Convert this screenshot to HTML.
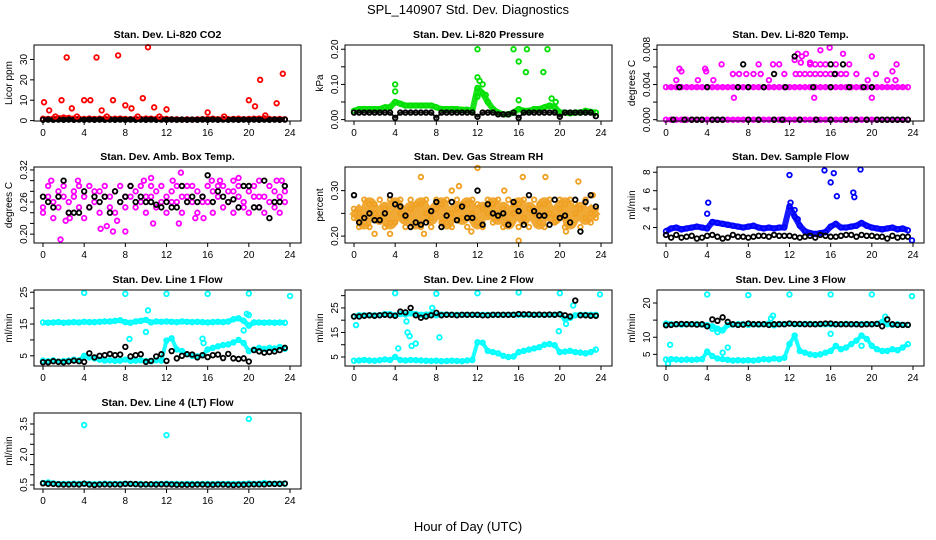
<!DOCTYPE html>
<html><head><meta charset="utf-8">
<style>
html,body{margin:0;padding:0;background:#fff;}
svg{display:block;font-family:"Liberation Sans",sans-serif;}
</style></head>
<body>
<svg id="chart" width="936" height="540" viewBox="0 0 936 540" xmlns="http://www.w3.org/2000/svg">
<text x="468" y="14" font-size="13" text-anchor="middle">SPL_140907  Std. Dev. Diagnostics</text>
<text x="468" y="531" font-size="13" text-anchor="middle">Hour of Day (UTC)</text>
<g id="panels"></g>
</svg>
<script>
const hours=[0,0.5,1,1.5,2,2.5,3,3.5,4,4.5,5,5.5,6,6.5,7,7.5,8,8.5,9,9.5,10,10.5,11,11.5,12,12.5,13,13.5,14,14.5,15,15.5,16,16.5,17,17.5,18,18.5,19,19.5,20,20.5,21,21.5,22,22.5,23,23.5];
const xTicks=[0,4,8,12,16,20,24];

// Panel 1 CO2
const co2Red=[0.9,0.8,1,1.2,1.5,1.3,1,0.9,0.8,1,0.8,0.9,1,0.8,0.9,1,0.8,0.7,0.9,0.8,1,0.9,0.8,0.9,0.8,0.6,0.6,0.5,0.6,0.5,0.6,0.7,0.8,0.9,0.7,0.8,0.7,0.8,0.9,0.7,0.8,0.9,1,1.1,0.8,0.7,0.8,0.6];
const co2Black=[0.4,0.5,0.4,0.5,0.4,0.5,0.4,0.5,0.4,0.5,0.4,0.5,0.4,0.5,0.4,0.5,0.4,0.5,0.4,0.5,0.4,0.5,0.4,0.5,0.4,0.5,0.4,0.5,0.4,0.5,0.4,0.5,0.4,0.5,0.4,0.5,0.4,0.5,0.4,0.5,0.4,0.5,0.4,0.5,0.4,0.5,0.4,0.5];
const co2OutX=[0.1,0.6,1.8,2.3,2.8,4,4.6,5.2,5.7,6.8,7.3,8,8.6,9.7,10.2,10.8,12,16,20,20.6,21.1,22.7,23.3,1.2,3.3,6.2,9.2,11.3,17.6,21.6];
const co2OutY=[9,5,10,31,6,10,10,31,5,10,32,7.5,6,11,36,6.5,5.5,4,10,7,20,8.5,23,2,2,2,2,2,2,2.5];

// Panel 2 pressure
const presGreen=[0.025,0.03,0.03,0.03,0.03,0.03,0.035,0.035,0.05,0.045,0.04,0.04,0.04,0.04,0.04,0.04,0.035,0.03,0.03,0.03,0.03,0.028,0.028,0.025,0.09,0.075,0.05,0.03,0.02,0.015,0.015,0.02,0.03,0.025,0.025,0.03,0.03,0.035,0.04,0.035,0.02,0.02,0.018,0.02,0.02,0.025,0.022,0.02];
const presBlack=[0.02,0.02,0.02,0.02,0.02,0.02,0.02,0.02,0.005,0.02,0.02,0.02,0.02,0.02,0.02,0.02,0.005,0.02,0.02,0.02,0.02,0.02,0.02,0.02,0.008,0.02,0.02,0.02,0.015,0.015,0.015,0.02,0.005,0.02,0.02,0.02,0.02,0.02,0.02,0.02,0.008,0.02,0.02,0.02,0.02,0.02,0.02,0.01];
const presOutX=[4,4,12,12,12.2,12.5,12.8,15.5,16.8,16,16.7,18.4,18.8,19.2,16,12,13,19.6];
const presOutY=[0.1,0.08,0.2,0.12,0.11,0.1,0.07,0.2,0.2,0.165,0.135,0.135,0.2,0.06,0.055,0.065,0.05,0.05];

// Panel 3 Li-820 temp
const tempMagLow=[0,0,0,0,0,0,0,0,0,0,0,0,0,0,0,0,0,0,0,0,0,0,0,0,0,0,0,0,0,0,0,0,0,0,0,0,0,0,0,0,0,0,0,0,0,0,0,0];
const tempMagMid=[0.0037,0.0037,0.0037,0.0037,0.0037,0.0037,0.0037,0.0037,0.0037,0.0037,0.0037,0.0037,0.0037,0.0037,0.0037,0.0037,0.0037,0.0037,0.0037,0.0037,0.0037,0.0037,0.0037,0.0037,0.0037,0.0037,0.0037,0.0037,0.0037,0.0037,0.0037,0.0037,0.0037,0.0037,0.0037,0.0037,0.0037,0.0037,0.0037,0.0037,0.0037,0.0037,0.0037,0.0037,0.0037,0.0037,0.0037,0.0037];
const tempMagOutX=[1,1.5,1.3,3.1,3.9,3.8,5.4,4.6,6.6,6.5,7.1,7.8,9,9.2,10.4,11,10,12.5,12.8,13.2,13.6,13.1,14,14.4,15,15.9,17.2,17.8,18.5,19.6,20,20,20.4,21.5,22,22.4,22.3,12.6,13,13.5,14,14.5,15,15.5,16,16.5,17,17.5,14,14.5,15,15.5,16.5,11.5,8.5];
const tempMagOutY=[0.0045,0.0055,0.0058,0.0045,0.0055,0.0058,0.0063,0.0045,0.0025,0.0052,0.0052,0.0052,0.0063,0.0052,0.0063,0.0063,0.0045,0.0068,0.0075,0.0072,0.0075,0.0065,0.0065,0.0025,0.0079,0.0082,0.0075,0.0063,0.0052,0.0045,0.0072,0.0025,0.0052,0.0045,0.0055,0.0063,0.0045,0.0052,0.0052,0.0052,0.0052,0.0052,0.0052,0.0052,0.0052,0.0052,0.0052,0.0052,0.0063,0.0063,0.0063,0.0063,0.0063,0.0052,0.0052];
const tempBlackX=[0.7,1.8,2.5,3,3.5,4.5,5,5.5,8,9,10.5,11.3,13,14.6,16,17.5,18.5,19.5,20.5,21,21.5,22,22.5,23,23.5,1.3,4,7,8,9.5,11.6,14.3,16,17.8,19.2,20,7.5,16,17.2,12.5,10.5,16.4];
const tempBlackY=[0,0,0,0,0,0,0,0,0,0,0,0,0,0,0,0,0,0,0,0,0,0,0,0,0,0.0037,0.0037,0.0037,0.0037,0.0037,0.0037,0.0037,0.0037,0.0037,0.0037,0.0037,0.0063,0.0063,0.0063,0.0072,0.0052,0.0052];

// Panel 4 amb box temp
const ambMagA=[0.25,0.27,0.26,0.28,0.27,0.26,0.28,0.25,0.27,0.29,0.26,0.28,0.27,0.25,0.28,0.26,0.27,0.29,0.28,0.26,0.27,0.29,0.28,0.26,0.27,0.28,0.26,0.27,0.29,0.26,0.28,0.27,0.26,0.28,0.27,0.29,0.26,0.28,0.27,0.26,0.28,0.27,0.25,0.27,0.26,0.28,0.27,0.26];
const ambMagB=[0.24,0.29,0.23,0.25,0.29,0.24,0.27,0.29,0.23,0.25,0.28,0.24,0.29,0.27,0.24,0.29,0.25,0.27,0.25,0.29,0.24,0.27,0.25,0.29,0.24,0.26,0.29,0.24,0.27,0.29,0.24,0.26,0.29,0.24,0.29,0.25,0.28,0.24,0.29,0.25,0.24,0.29,0.27,0.24,0.29,0.25,0.24,0.28];
const ambMagOutX=[0.8,1.7,2.6,3.4,5.6,6.2,6.8,8,9.8,10.5,12.6,13.4,14.8,15.6,16.4,17.2,18.5,19,21,22.7,23.2,2.2,7.2,10.7,13.2];
const ambMagOutY=[0.3,0.19,0.23,0.3,0.21,0.215,0.205,0.205,0.3,0.305,0.3,0.315,0.23,0.23,0.3,0.3,0.3,0.305,0.3,0.3,0.3,0.225,0.225,0.22,0.22];
const ambBlack=[0.27,0.26,0.25,0.27,0.3,0.24,0.24,0.24,0.28,0.25,0.27,0.26,0.27,0.24,0.28,0.26,0.27,0.29,0.26,0.27,0.26,0.26,0.255,0.25,0.26,0.25,0.25,0.29,0.26,0.27,0.26,0.27,0.31,0.26,0.28,0.27,0.26,0.265,0.25,0.29,0.29,0.25,0.25,0.3,0.23,0.26,0.26,0.29];

// Panel 5 gas RH
const rhOrA=[0.26,0.25,0.23,0.27,0.25,0.24,0.26,0.23,0.27,0.25,0.24,0.26,0.23,0.27,0.25,0.24,0.26,0.27,0.23,0.25,0.26,0.24,0.27,0.25,0.23,0.26,0.25,0.27,0.24,0.26,0.23,0.25,0.27,0.24,0.26,0.25,0.23,0.27,0.25,0.24,0.26,0.27,0.23,0.25,0.26,0.24,0.25,0.26];
const rhOrB=[0.24,0.22,0.28,0.22,0.27,0.28,0.22,0.28,0.23,0.28,0.22,0.28,0.27,0.22,0.28,0.22,0.28,0.23,0.28,0.22,0.28,0.27,0.22,0.28,0.27,0.22,0.28,0.23,0.28,0.22,0.28,0.27,0.22,0.28,0.22,0.28,0.27,0.22,0.28,0.23,0.28,0.22,0.28,0.27,0.22,0.28,0.23,0.24];
const rhOrOutX=[6.5,10.2,9.5,12,14.6,16,18.6,21.8,23.2,2,3.5,6.8,11.4,16.4,20.6];
const rhOrOutY=[0.33,0.31,0.3,0.35,0.3,0.19,0.33,0.32,0.29,0.205,0.205,0.205,0.21,0.33,0.21];
const rhBlack=[0.29,0.23,0.24,0.25,0.235,0.235,0.25,0.29,0.27,0.265,0.245,0.22,0.23,0.225,0.23,0.255,0.275,0.22,0.245,0.275,0.235,0.265,0.24,0.24,0.3,0.225,0.27,0.25,0.245,0.25,0.225,0.275,0.255,0.225,0.29,0.255,0.245,0.245,0.225,0.28,0.24,0.245,0.23,0.28,0.21,0.275,0.29,0.265];

// Panel 6 sample flow
const sfBlue=[1.6,1.9,2,1.8,1.9,2,2.1,2,1.9,2.6,2.5,2.4,2.3,2.2,2.1,2,2.1,2.2,2,1.9,2,1.9,2,2,4.3,3.2,2.2,1.6,1.4,1.3,1.4,1.5,2.1,2.4,2,2,2.1,2.2,2.5,2.2,2,1.9,1.8,1.9,2,1.8,1.9,1.7];
const sfBlack=[1.2,0.9,1.2,0.9,1,1.1,0.8,0.9,1.1,1.2,1,0.8,0.9,1.2,1,1,0.9,1,1.1,1.1,1,1.2,1.1,1.1,1.1,1,0.9,1,1.1,0.9,1.2,1.1,1,1,1.1,1.2,1.2,1,1.2,1.1,1.1,1,1,0.8,1.1,0.9,1,1];
const sfOutX=[4,4.1,12,12.1,12.5,15.4,16,16.3,16.6,18.2,18.3,18.9,23.9,12.8];
const sfOutY=[3.5,4.7,7.7,4.7,3.9,8.2,6.9,7.9,5.4,5.8,5.3,8.3,0.6,2.9];

// Panel 7 Line 1
const l1High=[15.5,15.4,15.5,15.6,15.4,15.5,15.6,15.5,15.7,15.6,15.6,15.7,15.8,15.8,16,16.2,15.6,15.4,15.8,16,16.3,15.5,15.8,15.7,15.8,15.7,15.6,15.8,15.7,15.6,15.7,15.6,15.5,15.6,15.7,15.6,15.8,16.5,16.8,16,14.5,15.5,15.5,15.4,15.5,15.4,15.5,15.4];
const l1Low=[3.5,3.3,3.6,3.2,3.4,3.5,3.8,3.6,5,4.5,4.2,3.8,3.5,3.6,3.4,3.5,3.8,3.4,3.5,3.6,3.4,3.3,3.6,3.5,9.8,10.5,7,6.5,5.5,5,4.8,5.2,7,7.5,8,8.4,8.6,9.2,10,9,6.5,7,7.5,7.2,7.5,7.3,7.8,7.2];
const l1OutX=[4,8,12,16,20,24,10.2,8.4,10,19.8,20,19.5,15.5,15.6];
const l1OutY=[24.8,24.5,24.5,24.5,24.6,23.8,19.3,10.3,12.5,18.2,17.8,13,10.4,9];
const l1Black=[3,3,3.3,3.1,3,3.2,3.5,3.3,3.1,5.8,4.5,5,5.2,5.6,5.2,5.4,7.8,4.8,5.2,5.5,3.1,3.4,4.8,5.5,3.4,6.5,4.2,5,5.5,5.4,4.5,5.2,4.6,5.2,5.4,4.3,5.6,4.2,4,4.2,3.2,6.8,6.4,6,6.2,6.4,6.8,7.5];

// Panel 8 Line 2
const l2High=[21.5,22,22,22,22,22,22.5,22.5,22,22.5,22.3,22.8,22.5,22.2,22.3,22.5,22,22.3,22.3,22.2,22.2,22.2,22.2,22.2,22.2,22.2,22.2,22.2,22.2,22.2,22.2,22.2,22.2,22.2,22.2,22.2,22.2,22.2,22.2,22.2,22.5,20.5,21,22,22.2,22.2,22.2,22.2];
const l2Low=[3.5,3.6,3.8,3.6,3.5,3.7,4,3.8,5,3.8,3.6,3.8,3.7,3.6,3.5,3.4,3.5,3.3,3.4,3.5,3.4,3.3,3.6,3.8,11,10.8,7.5,7,6.5,5.5,5,5.2,7,7.5,8,8.5,9,10,10.3,9.8,7,7.2,7.5,7,6.8,6.5,7,8];
const l2Black=[21.5,21.5,21.8,22,21.8,22,22.2,22,21.8,23.5,23.2,25,22,21,21.5,22,23,22,22.2,22.2,22,22.2,22.2,22.2,22.2,22,22,22.2,22.2,22.2,22.2,22.2,22.5,22.4,22.4,22.2,22.3,22.2,22.3,22.2,22.4,22,21.5,28,22,22,21.8,21.8];
const l2OutX=[4,8,12,16,20,23.9,0.2,4.3,5.2,5.4,5.6,6,8.3,5.1,19.9,20.6,21,21.3,7.6];
const l2OutY=[31,30.8,31,31.3,31,30.5,18,8.5,15,13.5,9.5,10.5,13,19.5,15.5,18.5,21,26,25];

// Panel 9 Line 3
const l3High=[14,13.8,13.8,13.7,13.8,13.8,13.8,13.7,13.5,13.2,12.5,12,13.6,13.7,13.8,13.8,13.6,13.8,13.7,13.8,14,13.5,13.9,13.8,14,13.8,13.8,13.9,13.9,13.8,13.8,13.8,13.8,13.8,13.8,13.9,13.8,13.8,13.8,13.9,13.8,13.9,14.5,13.8,13.6,13.8,13.6,13.6];
const l3Low=[3.5,3.6,3.5,3.4,3.5,3.4,3.5,3.6,5.8,4.5,3.8,3.6,3.4,3.2,3.3,3.2,3.3,3.2,3.4,3.6,3.5,3.8,3.6,4,8,10.5,6,5.5,5,4.8,5,5.5,6,7.5,6.5,7,8,9,10.5,9.5,7.5,6.5,6,6,6.5,6.2,7,8];
const l3Black=[13.5,13.6,13.8,13.9,13.8,13.8,13.7,13.8,13.2,15.2,14.8,15.8,14.5,13.8,13.6,13.7,14,13.8,13.8,13.8,13.6,13.8,13.8,13.8,14,13.9,13.9,13.8,13.8,13.8,13.9,14,14,13.8,13.8,13.8,13.8,13.8,13.7,13.8,13.8,13.9,13.2,15.2,13.8,13.6,13.6,13.6];
const l3OutX=[4,8,12,16,20,23.9,0.2,0.4,5.5,6,10.2,10.4,4.5,5,16,19,21.3];
const l3OutY=[22.5,22.3,22.5,22.5,22.5,22,2.3,7.8,5.5,7,15.5,16.3,12.5,11.5,11,7.5,16];

// Panel 10 Line 4
const l4Cyan=[0.6,0.62,0.58,0.55,0.55,0.55,0.56,0.55,0.57,0.55,0.54,0.55,0.56,0.55,0.55,0.55,0.56,0.55,0.54,0.55,0.52,0.53,0.55,0.55,0.56,0.55,0.55,0.54,0.55,0.55,0.54,0.55,0.55,0.54,0.55,0.55,0.55,0.55,0.55,0.55,0.57,0.55,0.56,0.6,0.56,0.56,0.57,0.56];
const l4Black=[0.58,0.56,0.55,0.53,0.52,0.52,0.53,0.52,0.56,0.52,0.5,0.52,0.53,0.52,0.53,0.52,0.55,0.55,0.54,0.52,0.53,0.53,0.52,0.53,0.53,0.52,0.51,0.51,0.51,0.51,0.52,0.52,0.51,0.51,0.52,0.52,0.51,0.5,0.51,0.51,0.52,0.53,0.53,0.53,0.55,0.55,0.55,0.57];
const l4OutX=[4,12,20];
const l4OutY=[3.45,2.95,3.75];

const MAG='#ff00ff',BLK='#000',CY='#00ffff',RED='#ff0000',GRN='#00e000',BLU='#0000ff',ORG='#f0a020';
const cols=[34,345,657],rows=[45,167,290,413],BW=267,BH=76;
const panels=[
 {name:'co2',title:'Stan. Dev. Li-820 CO2',yl:'Licor ppm',c:0,r:0,lo:-0.2,hi:37.1,ticks:[0,10,20,30],labs:['0','10','20','30'],
  s:[{col:RED,v:co2Red,band:5},{col:BLK,v:co2Black,band:4},{col:RED,ox:co2OutX,oy:co2OutY}]},
 {name:'pressure',title:'Stan. Dev. Li-820 Pressure',yl:'kPa',c:1,r:0,lo:-0.004,hi:0.212,ticks:[0,0.05,0.1,0.15,0.2],labs:['0.00','','0.10','','0.20'],
  s:[{col:GRN,v:presGreen,band:6},{col:BLK,v:presBlack,band:2},{col:GRN,ox:presOutX,oy:presOutY}]},
 {name:'li820-temp',title:'Stan. Dev. Li-820 Temp.',yl:'degrees C',c:2,r:0,lo:-0.00015,hi:0.0085,ticks:[0,0.002,0.004,0.006,0.008],labs:['0.000','','0.004','','0.008'],
  s:[{col:MAG,v:tempMagLow,band:4},{col:MAG,v:tempMagMid,band:4},{col:MAG,ox:tempMagOutX,oy:tempMagOutY},{col:BLK,ox:tempBlackX,oy:tempBlackY}]},
 {name:'amb-box-temp',title:'Stan. Dev. Amb. Box Temp.',yl:'degrees C',c:0,r:1,lo:0.1834,hi:0.3255,ticks:[0.20,0.22,0.24,0.26,0.28,0.30,0.32],labs:['0.20','','','0.26','','','0.32'],
  s:[{col:MAG,v:ambMagA},{col:MAG,v:ambMagB},{col:MAG,ox:ambMagOutX,oy:ambMagOutY},{col:BLK,v:ambBlack}]},
 {name:'gas-rh',title:'Stan. Dev. Gas Stream RH',yl:'percent',c:1,r:1,lo:0.1848,hi:0.352,ticks:[0.20,0.25,0.30],labs:['0.20','','0.30'],
  s:[{col:ORG,v:rhOrA,band:14},{col:ORG,v:rhOrB},{col:ORG,ox:rhOrOutX,oy:rhOrOutY},{col:BLK,v:rhBlack}]},
 {name:'sample-flow',title:'Stan. Dev. Sample Flow',yl:'ml/min',c:2,r:1,lo:0.32,hi:8.57,ticks:[2,4,6,8],labs:['2','4','6','8'],
  s:[{col:BLU,v:sfBlue,band:6},{col:BLK,v:sfBlack},{col:BLU,ox:sfOutX,oy:sfOutY}]},
 {name:'line1-flow',title:'Stan. Dev. Line 1 Flow',yl:'ml/min',c:0,r:2,lo:1.8,hi:25.7,ticks:[5,10,15,20,25],labs:['5','','15','','25'],
  s:[{col:CY,v:l1High,band:5},{col:CY,v:l1Low,band:4},{col:CY,ox:l1OutX,oy:l1OutY},{col:BLK,v:l1Black}]},
 {name:'line2-flow',title:'Stan. Dev. Line 2 Flow',yl:'ml/min',c:1,r:2,lo:1.33,hi:32.3,ticks:[5,10,15,20,25,30],labs:['5','','15','','25',''],
  s:[{col:CY,v:l2High,band:5},{col:CY,v:l2Low,band:4},{col:CY,ox:l2OutX,oy:l2OutY},{col:BLK,v:l2Black}]},
 {name:'line3-flow',title:'Stan. Dev. Line 3 Flow',yl:'ml/min',c:2,r:2,lo:1.6,hi:23.8,ticks:[5,10,15,20],labs:['5','10','','20'],
  s:[{col:CY,v:l3High,band:5},{col:CY,v:l3Low,band:4},{col:CY,ox:l3OutX,oy:l3OutY},{col:BLK,v:l3Black}]},
 {name:'line4-flow',title:'Stan. Dev. Line 4 (LT) Flow',yl:'ml/min',c:0,r:3,lo:0.3,hi:4.04,ticks:[0.5,1.0,1.5,2.0,2.5,3.0,3.5],labs:['0.5','','','2.0','','','3.5'],
  s:[{col:CY,v:l4Cyan,band:5},{col:CY,ox:l4OutX,oy:l4OutY},{col:BLK,v:l4Black}]}
];
const NS='http://www.w3.org/2000/svg';
const root=document.getElementById('panels');
function mk(tag,attrs,parent){const e=document.createElementNS(NS,tag);for(const k in attrs)e.setAttribute(k,attrs[k]);parent.appendChild(e);return e;}
panels.forEach(p=>{
 const X0=cols[p.c],Y0=rows[p.r];
 const xs=h=>X0+9+h/24*247;
 const ys=v=>Y0+BH-(v-p.lo)/(p.hi-p.lo)*BH;
 const g=mk('g',{},root);
 
 
 const t=mk('text',{x:X0+BW/2,y:Y0-7,'font-size':10.5,'font-weight':'bold','text-anchor':'middle'},g);
 t.textContent=p.title;
 
 
 const yl=mk('text',{transform:`translate(${X0-22},${Y0+BH/2}) rotate(-90)`,'font-size':10,'text-anchor':'middle'},g);
 yl.textContent=p.yl;
 
 
 const pts=mk('g',{fill:'none','stroke-width':1.8},g);
 
 
 p.s.forEach(s=>{
  if(s.v){
   if(s.band){
    const pl=mk('polyline',{points:s.v.map((v,i)=>xs(hours[i])+','+ys(v)).join(' '),stroke:s.col,'stroke-width':s.band,'stroke-linejoin':'round',opacity:0.9},pts);
    
    
   }
   s.v.forEach((v,i)=>{const c=mk('circle',{cx:xs(hours[i]),cy:ys(v),r:2.3,stroke:s.col},pts);
    
    });
  }
  if(s.ox){s.ox.forEach((x,i)=>{const c=mk('circle',{cx:xs(x),cy:ys(s.oy[i]),r:2.3,stroke:s.col},pts);
    
    });}
 });
 const box=mk('rect',{x:X0,y:Y0,width:BW,height:BH,fill:'none',stroke:'#000','stroke-width':1},g);
 
 
 xTicks.forEach(h=>{mk('line',{x1:xs(h),x2:xs(h),y1:Y0+BH,y2:Y0+BH+4,stroke:'#000'},g);
  const tx=mk('text',{x:xs(h),y:Y0+BH+15,'font-size':10,'text-anchor':'middle'},g);tx.textContent=h;
  
  });
 p.ticks.forEach((v,i)=>{mk('line',{x1:X0-4,x2:X0,y1:ys(v),y2:ys(v),stroke:'#000'},g);
  if(p.labs[i]){const ty=mk('text',{transform:`translate(${X0-7},${ys(v)}) rotate(-90)`,'font-size':10,'text-anchor':'middle'},g);ty.textContent=p.labs[i];
  
  }});
});
</script>
</body></html>
